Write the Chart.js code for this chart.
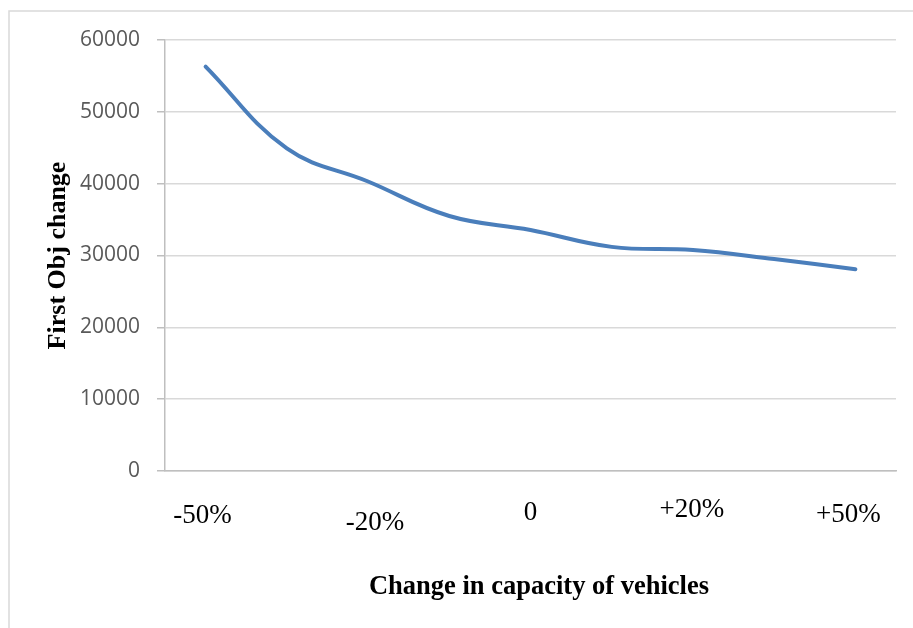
<!DOCTYPE html>
<html>
<head>
<meta charset="utf-8">
<script src="https://cdn.jsdelivr.net/npm/chart.js@4.4.1/dist/chart.umd.min.js"></script>
<style>
  html, body { margin: 0; padding: 0; background: #ffffff; }
  canvas { display: block; }
</style>
</head>
<body>
<canvas id="chart" width="913" height="628"></canvas>
<script>
// Capacity steps (only some of them carry a caption) and the objective values
const categories = ['-50%', '', '-20%', '', '0', '', '+20%', '', '+50%'];
const firstObj = [56300, 44900, 40300, 35500, 33550, 31200, 30750, 29500, 28100];
const yTicks = [0, 10000, 20000, 30000, 40000, 50000, 60000];
const xTitle = 'Change in capacity of vehicles';
const yTitle = 'First Obj change';

// Caption placement under the axis: [horizontal nudge, baseline y]
const captionPlacement = {
  0: [-3, 523],
  2: [7, 530],
  4: [0, 520],
  6: [-1, 517],
  8: [-7, 522]
};

const decorations = {
  id: 'decorations',
  beforeDraw(chart) {
    const ctx = chart.ctx;
    ctx.save();
    ctx.strokeStyle = '#d9d9d9';
    ctx.lineWidth = 1.5;
    ctx.strokeRect(9, 11, 2000, 2000);
    ctx.restore();
  },
  afterDraw(chart) {
    const ctx = chart.ctx;
    const xs = chart.scales.x;
    ctx.save();
    ctx.fillStyle = '#000000';
    ctx.textAlign = 'center';
    ctx.textBaseline = 'alphabetic';
    ctx.font = '27px "Liberation Serif"';
    categories.forEach((lab, i) => {
      if (!lab) return;
      const [dx, baseY] = captionPlacement[i];
      ctx.fillText(lab, xs.getPixelForValue(i) + dx, baseY);
    });
    ctx.font = 'bold 26.5px "Liberation Serif"';
    ctx.fillText(xTitle, 539, 594);
    ctx.restore();
  }
};

new Chart(document.getElementById('chart'), {
  type: 'line',
  data: {
    labels: categories,
    datasets: [{
      data: firstObj,
      borderColor: '#4a7ebb',
      borderWidth: 4,
      borderCapStyle: 'round',
      pointRadius: 0,
      pointHoverRadius: 0,
      tension: 0.4,
      fill: false
    }]
  },
  options: {
    responsive: false,
    animation: false,
    devicePixelRatio: 1,
    layout: { padding: { top: 40, right: 17, left: 0, bottom: 0 } },
    plugins: {
      legend: { display: false },
      tooltip: { enabled: false }
    },
    scales: {
      x: {
        type: 'category',
        offset: true,
        ticks: { display: false },
        grid: { display: false },
        border: { color: '#bfbfbf', width: 1.5 },
        afterFit(s) { s.height = 157; }
      },
      y: {
        min: 0,
        max: 60000,
        afterBuildTicks(s) { s.ticks = yTicks.map(v => ({ value: v })); },
        afterFit(s) { s.width = 165; },
        ticks: {
          color: '#595959',
          font: { family: '"Open Sans"', size: 21 },
          padding: 17,
          callback: v => String(v)
        },
        grid: {
          color: '#d9d9d9',
          lineWidth: 1.5,
          drawTicks: true,
          tickLength: 8,
          tickColor: '#bfbfbf'
        },
        border: { color: '#bfbfbf', width: 1.5 },
        title: {
          display: true,
          text: yTitle,
          color: '#000000',
          font: { family: '"Liberation Serif"', size: 26, weight: 'bold' },
          padding: { top: 43, bottom: 0 }
        }
      }
    }
  },
  plugins: [decorations]
});
</script>
</body>
</html>
